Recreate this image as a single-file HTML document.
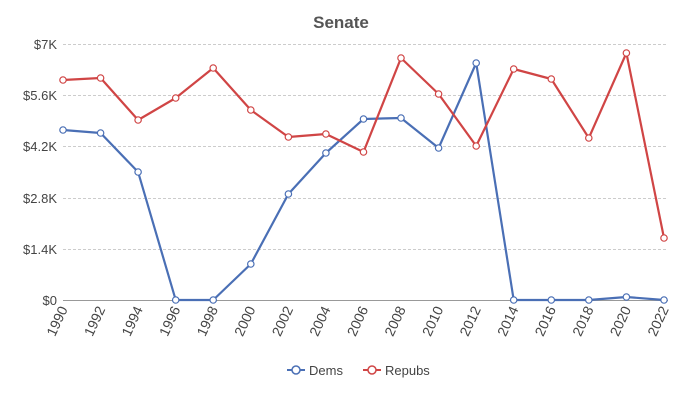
<!DOCTYPE html>
<html><head><meta charset="utf-8"><style>
body{margin:0;background:#fff;}
svg{display:block;font-family:"Liberation Sans",sans-serif;}
</style></head><body>
<svg width="683" height="400" viewBox="0 0 683 400">
<text x="341" y="28" text-anchor="middle" font-size="17" font-weight="bold" fill="#555">Senate</text>
<g stroke="#ccc" stroke-dasharray="3,2" stroke-width="1">
<line x1="63" x2="668" y1="44.5" y2="44.5"/>
<line x1="63" x2="668" y1="95.5" y2="95.5"/>
<line x1="63" x2="668" y1="146.5" y2="146.5"/>
<line x1="63" x2="668" y1="198.5" y2="198.5"/>
<line x1="63" x2="668" y1="249.5" y2="249.5"/>
</g>
<line x1="63" x2="668" y1="300.5" y2="300.5" stroke="#999"/>
<g font-size="13" fill="#444" text-anchor="end">
<text x="57" y="49">$7K</text>
<text x="57" y="100">$5.6K</text>
<text x="57" y="151">$4.2K</text>
<text x="57" y="203">$2.8K</text>
<text x="57" y="254">$1.4K</text>
<text x="57" y="305">$0</text>
</g>
<g font-size="14" fill="#444" text-anchor="end" id="xl"></g>
<polyline fill="none" stroke="#4a6fb5" stroke-width="2.2" stroke-linejoin="round" points="63,130 100.6,133 138.1,172 175.7,300 213.2,300 250.8,264 288.4,194 325.9,153 363.5,119 401,118 438.6,148 476.2,63 513.7,300 551.3,300 588.8,300 626.4,297 664,300"/>
<polyline fill="none" stroke="#d04545" stroke-width="2.2" stroke-linejoin="round" points="63,80 100.6,78 138.1,120 175.7,98 213.2,68 250.8,110 288.4,137 325.9,134 363.5,152 401,58 438.6,94 476.2,146 513.7,69 551.3,79 588.8,138 626.4,53 664,238"/>
<g id="pts"></g>
<g font-size="13" fill="#444">
<line x1="287" x2="305" y1="370" y2="370" stroke="#4a6fb5" stroke-width="2"/>
<circle cx="296" cy="370" r="4" fill="#fff" stroke="#4a6fb5" stroke-width="1.5"/>
<text x="309" y="375">Dems</text>
<line x1="363" x2="381" y1="370" y2="370" stroke="#d04545" stroke-width="2"/>
<circle cx="372" cy="370" r="4" fill="#fff" stroke="#d04545" stroke-width="1.5"/>
<text x="385" y="375">Repubs</text>
</g>
</svg>
<script>
var xl=document.getElementById('xl'),ns='http://www.w3.org/2000/svg';
for(var i=0;i<17;i++){var x=63+i*37.5625;var t=document.createElementNS(ns,'text');
t.setAttribute('transform','translate('+(x+5)+',309) rotate(-65)');t.textContent=1990+2*i;xl.appendChild(t);}
var pts=document.getElementById('pts');
document.querySelectorAll('polyline').forEach(function(p){var c=p.getAttribute('stroke');
p.getAttribute('points').split(' ').forEach(function(s){var a=s.split(',');var e=document.createElementNS(ns,'circle');
e.setAttribute('cx',a[0]);e.setAttribute('cy',a[1]);e.setAttribute('r',3.2);e.setAttribute('fill','#fff');e.setAttribute('stroke',c);e.setAttribute('stroke-width',1.2);pts.appendChild(e);});});
</script>
</body></html>
